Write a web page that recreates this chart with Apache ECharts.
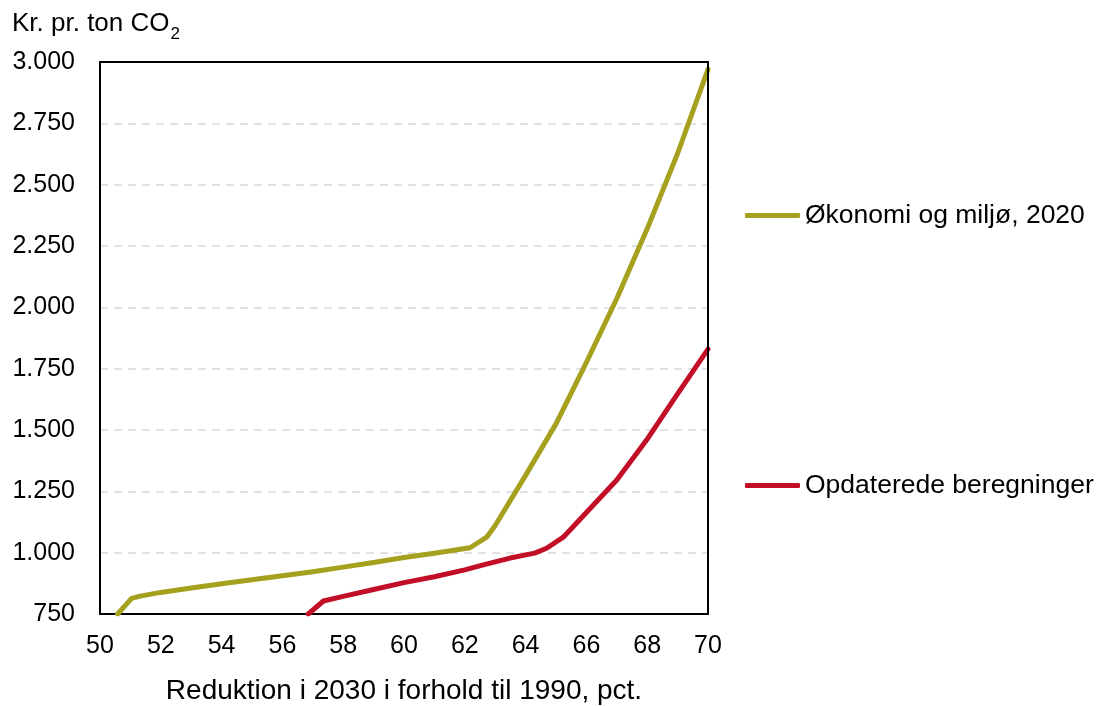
<!DOCTYPE html>
<html>
<head>
<meta charset="utf-8">
<script src="https://cdn.jsdelivr.net/npm/echarts@6/dist/echarts.min.js"></script>
<style>html,body{margin:0;padding:0;background:#fff;}#c{width:1099px;height:706px;}</style>
</head>
<body>
<div id="c"></div>
<script>
const greenName = 'Økonomi og miljø, 2020';
const redName = 'Opdaterede beregninger';
const greenX = [50.58, 51.04, 51.32, 52, 53, 54, 55, 56, 57, 58, 59, 60, 61, 62.17, 62.72, 63, 64, 65, 66, 67, 68, 69, 70];
const greenY = [750, 814, 823, 838, 856, 873, 890, 906, 922, 941, 960, 980, 998, 1020, 1063, 1111, 1315, 1525, 1776, 2036, 2320, 2627, 2970];
const redX = [56.85, 57.35, 58, 59, 60, 61, 62, 62.61, 63.49, 64.3, 64.69, 65.24, 66.23, 67, 67.98, 68.86, 70];
const redY = [750, 803, 822, 850, 878, 902, 930, 950, 978, 998, 1018, 1063, 1194, 1296, 1459, 1622, 1830];
const yTicks = [750, 1000, 1250, 1500, 1750, 2000, 2250, 2500, 2750, 3000];
const xTicks = [50, 52, 54, 56, 58, 60, 62, 64, 66, 68, 70];

const FONT = '"Liberation Sans", Arial, sans-serif';
const zip = (xs, ys) => xs.map((x, i) => [x, ys[i]]);
const fmt = v => String(v).replace(/\B(?=(\d{3})+(?!\d))/g, '.');
const xMin = xTicks[0], xMax = xTicks[xTicks.length - 1];
const yMin = yTicks[0], yMax = yTicks[yTicks.length - 1];

const chart = echarts.init(document.getElementById('c'), null, {renderer: 'canvas'});
chart.setOption({
  animation: false,
  backgroundColor: '#fff',
  textStyle: {fontFamily: FONT},
  title: {
    text: '{a|Kr. pr. ton CO}{b|2}',
    left: 12, top: 7, padding: 0,
    textStyle: {
      fontWeight: 'normal',
      rich: {
        a: {fontSize: 26, fontFamily: FONT, color: '#000', fontWeight: 'normal', verticalAlign: 'bottom', lineHeight: 30},
        b: {fontSize: 17, fontFamily: FONT, color: '#000', fontWeight: 'normal', verticalAlign: 'bottom', lineHeight: 22, padding: [0, 0, -6, 1]}
      }
    }
  },
  grid: {left: 100, right: 391, top: 62, bottom: 92, show: false, containLabel: false, outerBoundsMode: 'none'},
  legend: [
    {data: [greenName], left: 745, top: 202, padding: 0, itemWidth: 55, itemHeight: 5, icon: 'roundRect', itemGap: 5,
     textStyle: {fontSize: 26.5, fontFamily: FONT, color: '#000', padding: [0, 0, 0, 0]}},
    {data: [redName], left: 745, top: 472, padding: 0, itemWidth: 55, itemHeight: 5, icon: 'roundRect', itemGap: 5,
     textStyle: {fontSize: 26.5, fontFamily: FONT, color: '#000', padding: [0, 0, 0, 0]}}
  ],
  xAxis: [{
    type: 'value', min: xMin, max: xMax, interval: 2,
    name: 'Reduktion i 2030 i forhold til 1990, pct.',
    nameLocation: 'middle', nameGap: 63,
    nameTextStyle: {fontSize: 28, fontFamily: FONT, color: '#000'},
    axisLine: {lineStyle: {color: '#000', width: 2}},
    axisTick: {show: false},
    splitLine: {show: false},
    axisLabel: {fontSize: 25, fontFamily: FONT, color: '#000', margin: 20}
  }, {
    type: 'value', position: 'top', min: xMin, max: xMax, z: 5,
    axisLine: {show: true, lineStyle: {color: '#000', width: 2}},
    axisTick: {show: false}, axisLabel: {show: false}, splitLine: {show: false}
  }],
  yAxis: [{
    type: 'value', min: yMin, max: yMax, interval: 250,
    axisLine: {show: true, lineStyle: {color: '#000', width: 2}},
    axisTick: {show: false},
    splitLine: {show: true, lineStyle: {color: '#d9d9d9', type: [8, 6], width: 1.5}},
    axisLabel: {fontSize: 25, fontFamily: FONT, color: '#000', margin: 25, formatter: v => fmt(v)}
  }, {
    type: 'value', position: 'right', min: yMin, max: yMax, z: 5,
    axisLine: {show: true, lineStyle: {color: '#000', width: 2}},
    axisTick: {show: false}, axisLabel: {show: false}, splitLine: {show: false}
  }],
  series: [
    {name: greenName, type: 'line', data: zip(greenX, greenY), symbol: 'none', z: 3,
     lineStyle: {color: '#A5A01E', width: 5, cap: 'round', join: 'round'}, itemStyle: {color: '#A5A01E'}},
    {name: redName, type: 'line', data: zip(redX, redY), symbol: 'none', z: 3,
     lineStyle: {color: '#C20E26', width: 5, cap: 'round', join: 'round'}, itemStyle: {color: '#C20E26'}}
  ]
});
</script>
</body>
</html>
